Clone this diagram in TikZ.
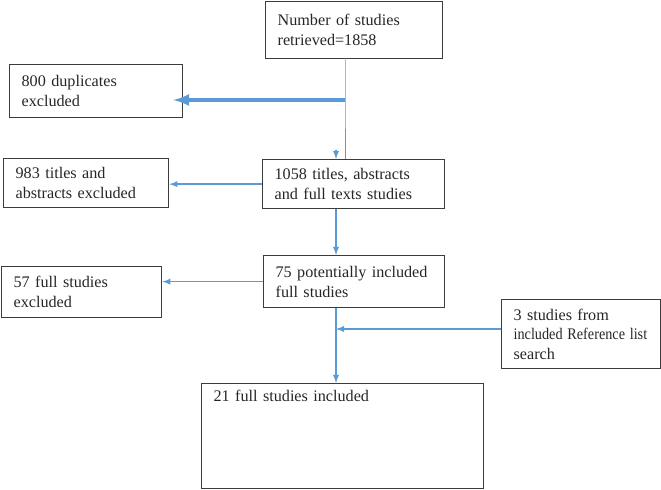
\documentclass[tikz,border=0pt]{standalone}
\usepackage{fontspec}
\setmainfont{Liberation Serif}
\usepackage{tikz}
\usetikzlibrary{arrows, calc}

\definecolor{flowblue}{RGB}{91,155,213}
\definecolor{boxgray}{RGB}{60,60,60}

\begin{document}
\begin{tikzpicture}[x=0.025cm, y=-0.025cm,
        box/.style={draw=boxgray, line width=0.9pt, anchor=north west, align=left,
            inner xsep=0.3cm, font=\fontsize{11.5}{14}\selectfont, text=black!85},
        flow/.style={draw=flowblue, line width=1pt, -latex},
        thinflow/.style={draw=flowblue, line width=0.7pt},
        bigflow/.style={draw=flowblue, line width=2.8pt, -latex}]
        \useasboundingbox (0,0) rectangle (661,490);

        % boxes down the middle
        \node[box, minimum width=4.425cm, minimum height=1.425cm, text width=3.825cm] (found) at (265,1) {Number of studies\\retrieved=1858};
        \node[box, minimum width=4.55cm, minimum height=1.225cm, text width=3.95cm] (screen) at (262,159) {1058 titles, abstracts\\and full texts studies};
        \node[box, minimum width=4.525cm, minimum height=1.3cm, text width=3.925cm] (eligible) at (263,255) {\mbox{75 potentially included}\\full studies};
        \node[box, minimum width=7.05cm, minimum height=2.625cm, text width=6.45cm, text depth=2.0cm] (included) at (201,383) {21 full studies included};

        % boxes at the sides
        \node[box, minimum width=4.325cm, minimum height=1.325cm, text width=3.725cm] (dups) at (9,64) {800 duplicates\\excluded};
        \node[box, minimum width=4.125cm, minimum height=1.225cm, text width=3.525cm] (titlesout) at (3,158) {983 titles and\\abstracts excluded};
        \node[box, minimum width=4.0cm, minimum height=1.275cm, text width=3.4cm] (fullout) at (1,266) {57 full studies\\excluded};
        \node[box, minimum width=3.975cm, minimum height=1.725cm, text width=3.375cm] (refs) at (501,299) {3 studies from\\\scalebox{0.88}[1]{included Reference list}\\search};

        \coordinate (top) at (345,58);
        \coordinate (split) at (345,100);
        \coordinate (join) at (336,329);

        \draw[thinflow] (top) -- (split) -- (split |- screen.north);
        \draw[bigflow] (split) -- ($(split -| dups.east)+(-10,0)$);
        \draw[flow] ($(join |- screen.north)+(0,-9)$) -- (join |- screen.north);

        \draw[flow] (screen.west) -- (screen.west -| titlesout.east);
        \draw[flow] (join |- screen.south) -- (join |- eligible.north);
        \draw[flow] (eligible.west) -- (eligible.west -| fullout.east);
        \draw[flow] (join |- eligible.south) -- (join |- included.north);
        \draw[flow] (refs.west |- join) -- (join);

    \end{tikzpicture}
\end{document}
